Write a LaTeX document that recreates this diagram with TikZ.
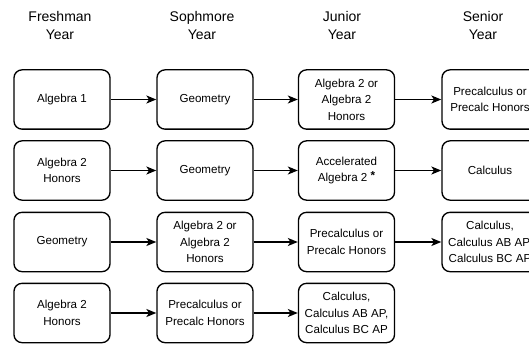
\documentclass[tikz,border=0pt]{standalone}
\usepackage{fontspec}
\setmainfont{Liberation Sans}
\usetikzlibrary{arrows.meta}
\begin{document}
\begin{tikzpicture}[x=0.75pt,y=-0.75pt,
  course/.style={draw,line width=1pt,rounded corners=6pt,minimum width=72pt,minimum height=44.5pt,
    align=center,font=\fontsize{8.7pt}{12.4pt}\selectfont,inner sep=1pt},
  hdr/.style={align=center,font=\fontsize{10.5pt}{13.5pt}\selectfont},
  link/.style={line width=1pt,-{Stealth[length=7.5pt,width=6pt,inset=2pt]}}]
\useasboundingbox (0,0) rectangle (529,346);
\clip (0,0) rectangle (529,346);
% headers
\node[hdr] (h1) at (60,25) {Freshman\\Year};
\node[hdr] (h2) at (202,25) {Sophmore\\Year};
\node[hdr] (h3) at (342,25) {Junior\\Year};
\node[hdr] (h4) at (483,25) {Senior\\Year};
% row 1
\node[course] (a1) at (62,99.5) {Algebra 1};
\node[course] (a2) at (205,99.5) {Geometry};
\node[course] (a3) at (346.5,99.5) {Algebra 2 or\\Algebra 2\\Honors};
\node[course] (a4) at (490,99.5) {Precalculus or\\Precalc Honors};
% row 2
\node[course] (b1) at (62,170.5) {Algebra 2\\Honors};
\node[course] (b2) at (205,170.5) {Geometry};
\node[course] (b3) at (346.5,170.5) {Accelerated\\Algebra 2 \raisebox{1.5pt}{\textbf{*}}};
\node[course] (b4) at (490,170.5) {Calculus};
% row 3
\node[course] (c1) at (62,242) {Geometry};
\node[course] (c2) at (205,242) {Algebra 2 or\\Algebra 2\\Honors};
\node[course] (c3) at (346.5,242) {Precalculus or\\Precalc Honors};
\node[course] (c4) at (490,242) {Calculus,\\Calculus AB AP,\\Calculus BC AP};
% row 4
\node[course] (d1) at (62,313) {Algebra 2\\Honors};
\node[course] (d2) at (205,313) {Precalculus or\\Precalc Honors};
\node[course] (d3) at (346.5,313) {Calculus,\\Calculus AB AP,\\Calculus BC AP};
% arrows
\foreach \r in {a,b,c}{
  \draw[link] (\r1) -- (\r2);
  \draw[link] (\r2) -- (\r3);
  \draw[link] (\r3) -- (\r4);
}
\draw[link] (d1) -- (d2);
\draw[link] (d2) -- (d3);
\end{tikzpicture}
\end{document}
